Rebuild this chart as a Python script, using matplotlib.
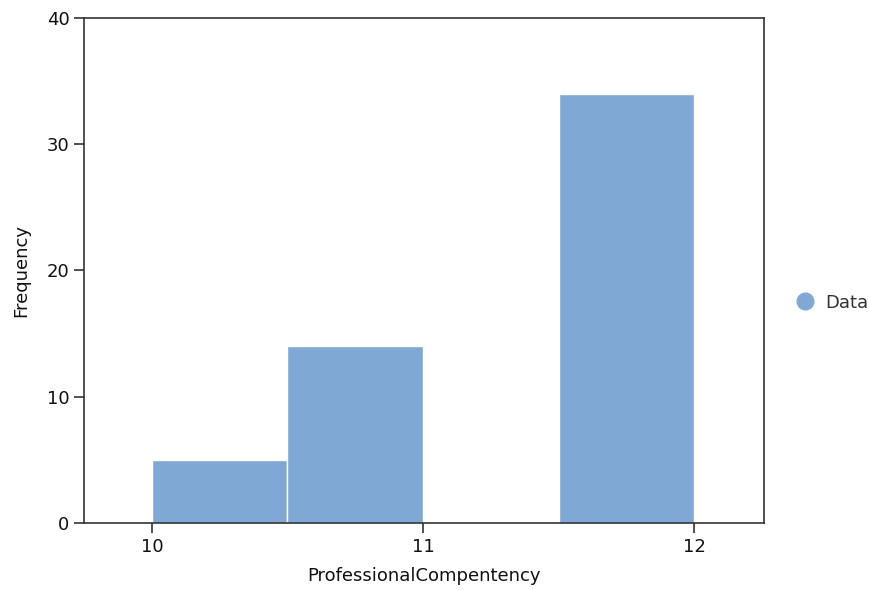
import numpy as np
import matplotlib
matplotlib.use("Agg")
import matplotlib.pyplot as plt
from matplotlib.lines import Line2D

# histogram bins and counts
bin_edges = [10.0, 10.5, 11.0, 11.5, 12.0]
counts = [5, 14, 0, 34]
xticks = [10, 11, 12]
yticks = [0, 10, 20, 30, 40]

bar_color = "#7fa9d4"
dark = "#333333"

fig = plt.figure(figsize=(8.7, 5.9), dpi=100)
ax = fig.add_axes([0.0966, 0.1136, 0.7816, 0.856])

ax.hist(bin_edges[:-1], bins=bin_edges, weights=counts,
        color=bar_color, edgecolor="white", linewidth=1)

ax.set_xlim(9.75, 12.258)
ax.set_ylim(0, 40)
ax.set_xticks(xticks)
ax.set_yticks(yticks)
ax.tick_params(direction="out", length=7, width=1.2, color=dark,
               labelsize=13, labelcolor="#111111")
for s in ax.spines.values():
    s.set_color(dark)
    s.set_linewidth(1.2)

ax.set_xlabel("ProfessionalCompentency", fontsize=13, color="#111111", labelpad=8)
ax.set_ylabel("Frequency", fontsize=13, color="#111111", labelpad=12)

handle = Line2D([], [], marker="o", linestyle="none", markersize=12,
                markerfacecolor=bar_color, markeredgecolor=bar_color)
fig.legend([handle], ["Data"], loc="center left", bbox_to_anchor=(0.886, 0.487),
           frameon=False, fontsize=13, handletextpad=0.1, labelcolor="#333333")

fig.savefig("out.png", dpi=100)
